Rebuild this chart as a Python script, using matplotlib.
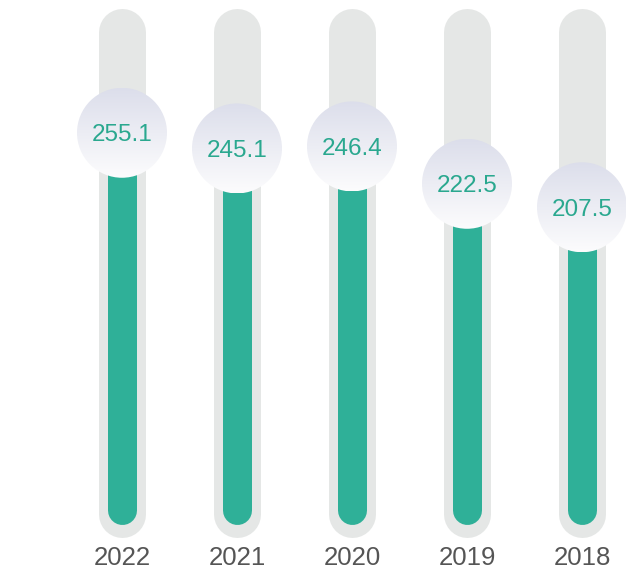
import numpy as np
import matplotlib
matplotlib.use("Agg")
import matplotlib.pyplot as plt
from matplotlib.patches import Circle
from matplotlib.transforms import ScaledTranslation

# data
years = ["2022", "2021", "2020", "2019", "2018"]
values = [255.1, 245.1, 246.4, 222.5, 207.5]

plt.rcParams['font.family'] = ['Liberation Sans', 'DejaVu Sans']

W, H, DPI = 626, 566, 100
fig = plt.figure(figsize=(W / DPI, H / DPI), dpi=DPI)
ax = fig.add_axes([0, 0, 1, 1])
# value 0 sits at ~532 px from the top, 1.565 px per unit
px_per_unit = 1.565
zero_px = 532
ax.axis("off")

track_col = "#e5e7e6"
bar_col = "#2fb098"
text_col = "#2aa88f"

x0, dx = 122, 115
track_w, bar_w = 47, 29      # pixels
radius = 45                   # pixels

def px_to_val(p):
    return (zero_px - p) / px_per_unit

track_top = px_to_val(9 + track_w / 2)
track_bot = px_to_val(537 - track_w / 2)
bar_bot = px_to_val(524 - bar_w / 2)

# vertical gradient for the bubbles
grad = np.linspace(0, 1, 256).reshape(-1, 1)
top_rgb = np.array(matplotlib.colors.to_rgb("#dcdeeb"))
bot_rgb = np.array(matplotlib.colors.to_rgb("#fcfcfd"))
grad_img = top_rgb * (1 - grad)[..., None] + bot_rgb * grad[..., None]

for i, (yr, v) in enumerate(zip(years, values)):
    x = x0 + dx * i
    ax.plot([x, x], [track_bot, track_top], color=track_col,
            lw=track_w * 72 / DPI, solid_capstyle="round", zorder=1)
    ax.plot([x, x], [bar_bot, v], color=bar_col,
            lw=bar_w * 72 / DPI, solid_capstyle="round", zorder=2)

    # bubble at the value
    tr = fig.dpi_scale_trans + ScaledTranslation(x, v, ax.transData)
    circ = Circle((0, 0), radius / DPI, transform=tr, facecolor="none",
                  edgecolor="none", zorder=3)
    ax.add_patch(circ)
    r_val = radius / px_per_unit
    im = ax.imshow(grad_img, extent=[x - radius, x + radius, v - r_val, v + r_val],
                   origin="upper", aspect="auto", zorder=3, interpolation="bilinear")
    im.set_clip_path(circ)

    ax.text(x, v, f"{v:.1f}", ha="center", va="center_baseline",
            fontsize=17.5, color=text_col, zorder=4)
    ax.text(x, px_to_val(565), yr, ha="center", va="baseline",
            fontsize=18.5, color="#555555", zorder=4)

ax.set_xlim(0, W)
ax.set_ylim((zero_px - H) / px_per_unit, zero_px / px_per_unit)

fig.savefig("out.png", dpi=DPI)
